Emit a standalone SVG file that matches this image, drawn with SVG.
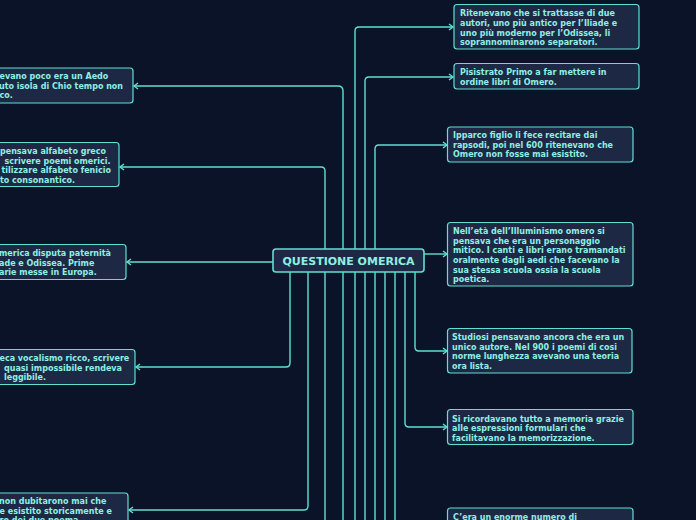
<svg xmlns="http://www.w3.org/2000/svg" width="696" height="520" viewBox="0 0 696 520">
<style>
.bg{fill:#0b1329}
.node rect{fill:#1d2844;stroke:#5fe0d0;stroke-width:1.2}
.node text{font-family:"DejaVu Sans","Liberation Sans",sans-serif;font-weight:bold;font-size:8px;fill:#8ef0e2}
.center rect{fill:#1d2844;stroke:#5fe0d0;stroke-width:1.6}
.center text{font-family:"DejaVu Sans","Liberation Sans",sans-serif;font-weight:bold;font-size:11px;fill:#8ef0e2}
.conn path{fill:none;stroke:#5fe0d0;stroke-width:1.4}
.arr{marker-end:url(#ah)}
</style>
<defs>
<marker id="ah" markerUnits="userSpaceOnUse" markerWidth="8" markerHeight="8" refX="6" refY="4" orient="auto">
<path d="M2,1 L6,4 L2,7" fill="none" stroke="#5fe0d0" stroke-width="1.4"/>
</marker>
</defs>
<rect class="bg" x="0" y="0" width="696" height="520"/>
<g id="connectors" class="conn">
<path class="arr" d="M355,520 V31 Q355,27 359,27 H453"/>
<path class="arr" d="M365,520 V81 Q365,77 369,77 H453"/>
<path class="arr" d="M375,520 V149 Q375,145 379,145 H447"/>
<path class="arr" d="M343,520 V91 Q343,86 338,86 H134"/>
<path class="arr" d="M325,520 V171 Q325,167 321,167 H120"/>
<path d="M385,272 V520"/>
<path d="M395,272 V520"/>
<path class="arr" d="M290,272 V363 Q290,367 286,367 H136"/>
<path class="arr" d="M308,272 V506 Q308,510 304,510 H129"/>
<path class="arr" d="M405,272 V423 Q405,427 409,427 H447"/>
<path class="arr" d="M415,272 V347 Q415,351 419,351 H447"/>
<path class="arr" d="M273,262 H127"/>
<path class="arr" d="M424,254 H447"/>
</g>
<g id="center" class="center">
<rect x="273" y="249" width="151" height="23" rx="3"/>
<text x="348.5" y="265" text-anchor="middle">QUESTIONE OMERICA</text>
</g>
<g id="r1" class="node">
<rect x="454" y="4.5" width="185" height="44.5" rx="3"/>
<text x="460" y="16">Ritenevano che si trattasse di due</text>
<text x="460" y="25.8">autori, uno più antico per l’Iliade e</text>
<text x="460" y="35.5">uno più moderno per l’Odissea, li</text>
<text x="460" y="45">soprannominarono separatori.</text>
</g>
<g id="r2" class="node">
<rect x="454" y="63.5" width="185" height="25.5" rx="3"/>
<text x="460" y="75">Pisistrato Primo a far mettere in</text>
<text x="460" y="84.5">ordine libri di Omero.</text>
</g>
<g id="r3" class="node">
<rect x="447.5" y="127" width="185.5" height="35" rx="3"/>
<text x="453" y="138">Ipparco figlio li fece recitare dai</text>
<text x="453" y="147.7">rapsodi, poi nel 600 ritenevano che</text>
<text x="453" y="157.3">Omero non fosse mai esistito.</text>
</g>
<g id="r4" class="node">
<rect x="447.5" y="222.5" width="185.5" height="63.5" rx="3"/>
<text x="453" y="234">Nell’età dell’Illuminismo omero si</text>
<text x="453" y="243.7">pensava che era un personaggio</text>
<text x="453" y="253.4">mitico. I canti e libri erano tramandati</text>
<text x="453" y="263">oralmente dagli aedi che facevano la</text>
<text x="453" y="272.7">sua stessa scuola ossia la scuola</text>
<text x="453" y="282.3">poetica.</text>
</g>
<g id="r5" class="node">
<rect x="447.5" y="328.5" width="184.5" height="44.5" rx="3"/>
<text x="452" y="340">Studiosi pensavano ancora che era un</text>
<text x="452" y="349.5">unico autore. Nel 900 i poemi di cosi</text>
<text x="452" y="359">norme lunghezza avevano una teoria</text>
<text x="452" y="368.5">ora lista.</text>
</g>
<g id="r6" class="node">
<rect x="447.5" y="409.5" width="185.5" height="35" rx="3"/>
<text x="452" y="421.5">Si ricordavano tutto a memoria grazie</text>
<text x="452" y="431">alle espressioni formulari che</text>
<text x="452" y="440.5">facilitavano la memorizzazione.</text>
</g>
<g id="r7" class="node">
<rect x="447.5" y="508" width="185.5" height="30" rx="3"/>
<text x="453" y="519.5">C’era un enorme numero di</text>
</g>
<g id="l1" class="node">
<rect x="-60" y="68" width="193" height="35" rx="3"/>
<text x="-0.5" y="79.3">evano poco era un Aedo</text>
<text x="-1" y="88.6">uto isola di Chio tempo non</text>
<text x="-0.5" y="98">co.</text>
</g>
<g id="l2" class="node">
<rect x="-60" y="142.5" width="179" height="44" rx="3"/>
<text x="0" y="154">pensava alfabeto greco</text>
<text x="4.5" y="163.5">scrivere poemi omerici.</text>
<text x="1.5" y="173">tilizzare alfabeto fenicio</text>
<text x="0" y="182.5">to consonantico.</text>
</g>
<g id="l3" class="node">
<rect x="-60" y="244.5" width="186" height="35" rx="3"/>
<text x="-1" y="256">merica disputa paternità</text>
<text x="-1" y="265.5">ade e Odissea. Prime</text>
<text x="-1" y="275">arie messe in Europa.</text>
</g>
<g id="l4" class="node">
<rect x="-60" y="349.5" width="195" height="35" rx="3"/>
<text x="-0.5" y="361">eca vocalismo ricco, scrivere</text>
<text x="4" y="370.5">quasi impossibile rendeva</text>
<text x="4" y="380">leggibile.</text>
</g>
<g id="l5" class="node">
<rect x="-60" y="493" width="188" height="40" rx="3"/>
<text x="-1" y="504.3">non dubitarono mai che</text>
<text x="-0.5" y="513.8">e esistito storicamente e</text>
<text x="-0.5" y="523.3">ro dei due poema</text>
</g>
</svg>
